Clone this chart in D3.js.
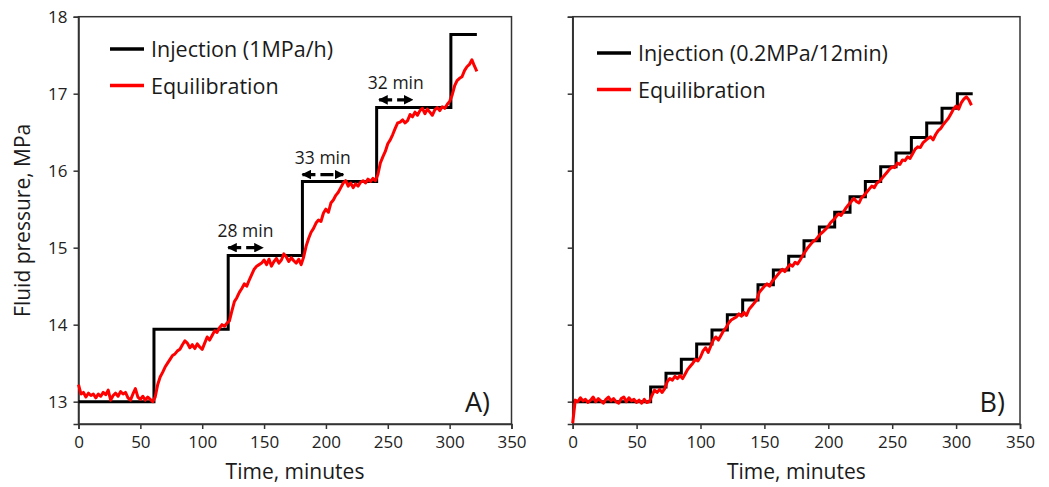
<!DOCTYPE html>
<meta charset="utf-8">
<script src="https://d3js.org/d3.v7.min.js"></script>
<style>
  body { margin: 0; background: #fff; }
  text { font-family: "Open Sans", "Noto Sans", sans-serif; fill: #1a1a1a; }
  .axis path, .axis line { stroke: #333; stroke-width: 1.5px; }
  .axis text { font-size: 17px; fill: #222; }
</style>
<body></body>
<script>
// ---- data ----
var xTicks = [0, 50, 100, 150, 200, 250, 300, 350];
var yTicks = [13, 14, 15, 16, 17, 18];

// panel A: 1 MPa/h injection steps
var stepTimesA  = [0, 61, 121, 181, 241, 301, 322];
var stepLevelsA = [13.0, 13.94, 14.90, 15.86, 16.82, 17.77, 17.77];

// equilibration pressure, one value every 2 minutes from t=0
var eqStepA = 2;
var eqA = [
  13.22, 13.10, 13.12, 13.06, 13.11, 13.08, 13.10, 13.05, 13.10, 13.07,
  13.12, 13.09, 13.15, 13.02, 13.08, 13.11, 13.07, 13.13, 13.10, 13.12,
  13.05, 13.02, 13.10, 13.17, 13.06, 13.03, 13.07, 13.02, 13.06, 13.03,
  13.00, 13.06, 13.22, 13.32, 13.38, 13.45, 13.50, 13.55, 13.60, 13.62,
  13.66, 13.68, 13.74, 13.79, 13.76, 13.70, 13.74, 13.69, 13.75, 13.71,
  13.68, 13.76, 13.84, 13.80, 13.86, 13.92, 13.90, 13.96, 14.00, 13.98,
  14.02, 14.05, 14.18, 14.30, 14.35, 14.42, 14.47, 14.53, 14.50, 14.58,
  14.65, 14.72, 14.76, 14.78, 14.80, 14.84, 14.78, 14.85, 14.76, 14.82,
  14.86, 14.80, 14.84, 14.92, 14.88, 14.82, 14.87, 14.83, 14.80, 14.85,
  14.78, 14.88, 15.02, 15.12, 15.20, 15.25, 15.32, 15.36, 15.34, 15.45,
  15.50, 15.46, 15.58, 15.62, 15.68, 15.72, 15.78, 15.84, 15.87, 15.80,
  15.84, 15.78, 15.83, 15.80, 15.85, 15.87, 15.84, 15.89, 15.86, 15.90,
  15.87, 15.95, 16.10, 16.18, 16.25, 16.35, 16.40, 16.47, 16.55, 16.62,
  16.63, 16.66, 16.62, 16.65, 16.73, 16.70, 16.76, 16.72, 16.78, 16.81,
  16.74, 16.80, 16.76, 16.72, 16.79, 16.82, 16.78, 16.83, 16.81, 16.86,
  16.90, 16.98, 17.10, 17.17, 17.20, 17.22, 17.30, 17.35, 17.38, 17.44,
  17.36, 17.29
];

// lag annotations on panel A
var lagLabels = ["28 min", "33 min", "32 min"];
var lagStart  = [121, 181, 243];
var lagEnd    = [149, 214, 270];
var lagLevel  = [15.0, 15.95, 16.92];

// panel B: 0.2 MPa every 12 min
var stepTimesB  = [0, 61, 73, 85, 97, 109, 121, 133, 145, 157, 169, 181, 193,
                   205, 217, 229, 241, 253, 265, 277, 289, 301, 313];
var stepLevelsB = [13.0, 13.19, 13.37, 13.55, 13.75, 13.93, 14.13, 14.32, 14.52,
                   14.71, 14.89, 15.09, 15.27, 15.46, 15.66, 15.86, 16.05, 16.23,
                   16.43, 16.62, 16.81, 17.00, 17.00];

var eqStepB = 2;
var eqB = [
  12.72, 13.02, 13.00, 13.05, 13.01, 13.03, 12.99, 13.02, 13.06, 13.00,
  13.04, 13.01, 12.98, 13.03, 13.06, 13.01, 13.04, 13.00, 12.98, 13.04,
  13.06, 13.00, 13.05, 13.01, 13.03, 12.99, 13.02, 12.98, 13.03, 12.99,
  13.00, 13.08, 13.15, 13.12, 13.16, 13.12, 13.17, 13.26, 13.30, 13.28,
  13.33, 13.30, 13.34, 13.30, 13.36, 13.42, 13.46, 13.50, 13.55, 13.53,
  13.58, 13.66, 13.70, 13.64, 13.72, 13.80, 13.84, 13.80, 13.86, 13.92,
  13.96, 14.02, 14.06, 14.08, 14.10, 14.14, 14.11, 14.16, 14.12, 14.20,
  14.24, 14.28, 14.32, 14.42, 14.46, 14.50, 14.53, 14.50, 14.56, 14.60,
  14.64, 14.68, 14.72, 14.69, 14.74, 14.78, 14.76, 14.81, 14.79, 14.84,
  14.90, 14.95, 15.00, 15.04, 15.08, 15.10, 15.14, 15.18, 15.21, 15.24,
  15.28, 15.33, 15.36, 15.40, 15.44, 15.42, 15.47, 15.52, 15.56, 15.60,
  15.64, 15.60, 15.58, 15.65, 15.68, 15.72, 15.76, 15.80, 15.78, 15.84,
  15.86, 15.90, 15.94, 15.98, 16.02, 16.05, 16.04, 16.10, 16.08, 16.14,
  16.13, 16.18, 16.16, 16.22, 16.28, 16.31, 16.30, 16.36, 16.39, 16.42,
  16.44, 16.40, 16.47, 16.52, 16.55, 16.60, 16.64, 16.68, 16.74, 16.80,
  16.84, 16.80, 16.88, 16.93, 16.96, 16.92, 16.85
];

// ---- layout ----
var width = 1049, height = 487;
var plotTop = 16.7, plotBottom = 424;

var svg = d3.select("body").append("svg")
    .attr("width", width)
    .attr("height", height);

svg.append("defs").append("marker")
    .attr("id", "head")
    .attr("viewBox", "0 0 10 10")
    .attr("refX", 9).attr("refY", 5)
    .attr("markerWidth", 3).attr("markerHeight", 3)
    .attr("orient", "auto-start-reverse")
    .append("path")
    .attr("d", "M0,0L10,5L0,10z")
    .attr("fill", "#000");

var y = d3.scaleLinear().domain([12.71, 18]).range([plotBottom, plotTop]);

function panel(left, right, showLabels) {
  var x = d3.scaleLinear().domain([0, 350]).range([left, right]);
  var g = svg.append("g");

  // frame
  g.append("rect")
    .attr("x", left).attr("y", plotTop)
    .attr("width", right - left).attr("height", plotBottom - plotTop)
    .attr("fill", "none").attr("stroke", "#333").attr("stroke-width", 1.5);

  g.append("g").attr("class", "axis")
    .attr("transform", "translate(0," + plotBottom + ")")
    .call(d3.axisBottom(x).tickValues(xTicks).tickSize(5).tickPadding(7));

  g.append("g").attr("class", "axis")
    .attr("transform", "translate(" + left + ",0)")
    .call(d3.axisLeft(y).tickValues(yTicks).tickSize(5).tickPadding(6)
      .tickFormat(showLabels ? d3.format("d") : ""));

  g.append("text")
    .attr("x", (left + right) / 2).attr("y", 479)
    .attr("text-anchor", "middle")
    .style("font-size", "21px")
    .text("Time, minutes");

  return {g: g, x: x};
}

function drawSeries(p, stepT, stepV, eq, dt) {
  var stepLine = d3.line()
      .x(function(d, i) { return p.x(stepT[i]); })
      .y(function(d) { return y(d); })
      .curve(d3.curveStepAfter);
  var eqLine = d3.line()
      .x(function(d, i) { return p.x(i * dt); })
      .y(function(d) { return y(d); });

  p.g.append("path").datum(stepV)
    .attr("d", stepLine)
    .attr("fill", "none").attr("stroke", "#000").attr("stroke-width", 3);
  p.g.append("path").datum(eq)
    .attr("d", eqLine)
    .attr("fill", "none").attr("stroke", "#ff0000").attr("stroke-width", 3)
    .attr("stroke-linejoin", "round");
}

function legend(p, lx, ly, injLabel) {
  var items = [[injLabel, "#000"], ["Equilibration", "#ff0000"]];
  items.forEach(function(it, i) {
    var yy = ly + i * 36.5;
    p.g.append("line")
      .attr("x1", lx).attr("x2", lx + 34)
      .attr("y1", yy).attr("y2", yy)
      .attr("stroke", it[1]).attr("stroke-width", 3.5);
    p.g.append("text")
      .attr("x", lx + 41).attr("y", yy + 8)
      .style("font-size", "21.5px")
      .text(it[0]);
  });
}

// panel A
var pA = panel(78.5, 511.5, true);
drawSeries(pA, stepTimesA, stepLevelsA, eqA, eqStepA);
legend(pA, 110, 49, "Injection (1MPa/h)");

lagLabels.forEach(function(lab, i) {
  var x0 = pA.x(lagStart[i]), x1 = pA.x(lagEnd[i]), yy = y(lagLevel[i]);
  pA.g.append("line")
    .attr("x1", x0).attr("x2", x1).attr("y1", yy).attr("y2", yy)
    .attr("stroke", "#000").attr("stroke-width", 3.2)
    .attr("stroke-dasharray", "13,5")
    .attr("marker-start", "url(#head)")
    .attr("marker-end", "url(#head)");
  pA.g.append("text")
    .attr("x", (x0 + x1) / 2).attr("y", yy - 11)
    .attr("text-anchor", "middle")
    .style("font-size", "17.5px")
    .text(lab);
});

pA.g.append("text")
  .attr("x", 490).attr("y", 412)
  .attr("text-anchor", "end")
  .style("font-size", "27px")
  .text("A)");

svg.append("text")
  .attr("transform", "translate(30," + ((plotTop + plotBottom) / 2) + ") rotate(-90)")
  .attr("text-anchor", "middle")
  .style("font-size", "21px")
  .text("Fluid pressure, MPa");

// panel B
var pB = panel(572.7, 1020, false);
drawSeries(pB, stepTimesB, stepLevelsB, eqB, eqStepB);
legend(pB, 597, 53, "Injection (0.2MPa/12min)");

pB.g.append("text")
  .attr("x", 1005).attr("y", 412)
  .attr("text-anchor", "end")
  .style("font-size", "27px")
  .text("B)");
</script>
